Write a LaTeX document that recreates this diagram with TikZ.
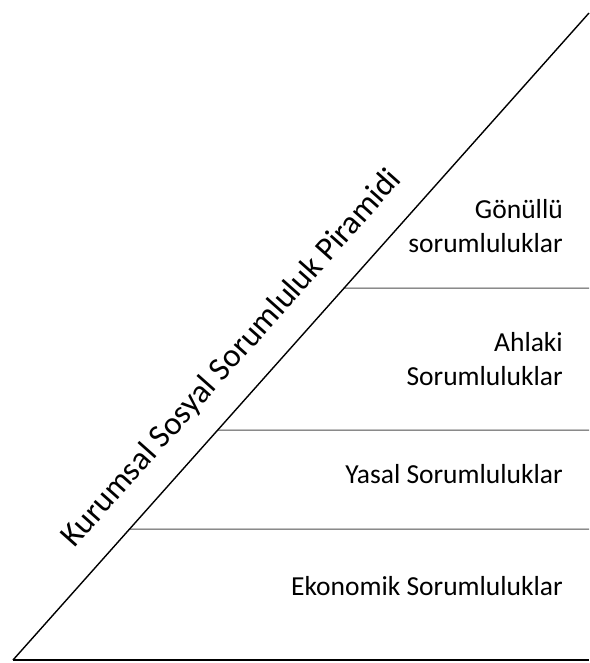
\documentclass[tikz,border=0pt]{standalone}
\usepackage{fontspec}
\setmainfont{Carlito}
\usetikzlibrary{calc}
\begin{document}
\begin{tikzpicture}[x=1pt,y=-1pt,
  edge/.style={draw=black, line width=1.4pt},
  base/.style={draw=black, line width=2pt},
  tier/.style={draw=black!70, line width=1pt},
  tierlabel/.style={anchor=base east, align=right, inner sep=0pt,
    font=\fontsize{27.5}{34}\selectfont},
  titlelabel/.style={anchor=base, inner sep=0pt,
    font=\fontsize{33}{40}\selectfont}]
  \useasboundingbox (0,0) rectangle (589,663);

  % corners of the triangle
  \coordinate (bl) at (13,660);
  \coordinate (br) at (589,660);
  \coordinate (top) at (589,13);

  % tier boundaries: start on the slope, end at the right edge
  \coordinate (t1l) at ($(bl)!{(660-288)/647}!(top)$);
  \coordinate (t1r) at (589,288);
  \coordinate (t2l) at ($(bl)!{(660-430)/647}!(top)$);
  \coordinate (t2r) at (589,430);
  \coordinate (t3l) at ($(bl)!{(660-529)/647}!(top)$);
  \coordinate (t3r) at (589,529);

  \draw[tier] (t1l) -- (t1r);
  \draw[tier] (t2l) -- (t2r);
  \draw[tier] (t3l) -- (t3r);
  \draw[base] (bl) -- (br);
  \draw[edge] (bl) -- (top);

  % tier labels (base anchor sits on the last line)
  \node[tierlabel] (gonullu) at (563,252) {Gönüllü\\sorumluluklar};
  \node[tierlabel] (ahlaki) at (563,385) {Ahlaki\\Sorumluluklar};
  \node[tierlabel] (yasal) at (563,483) {Yasal Sorumluluklar};
  \node[tierlabel] (ekonomik) at (563,595) {Ekonomik Sorumluluklar};

  % title along the slope
  \node[titlelabel, rotate=48.33] (title) at (238.6,364.5)
    {Kurumsal Sosyal Sorumluluk Piramidi};
\end{tikzpicture}
\end{document}
